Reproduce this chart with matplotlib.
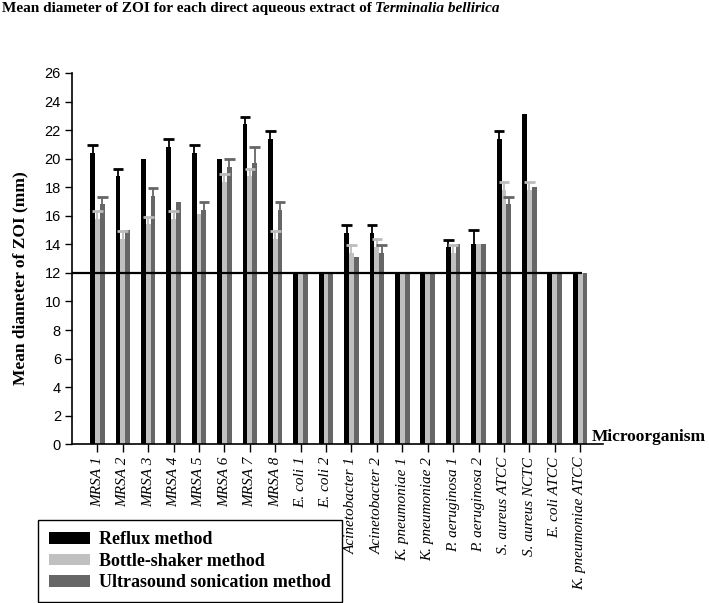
import numpy as np
import matplotlib
matplotlib.use("Agg")
from matplotlib import pyplot as plt

categories = ['MRSA 1', 'MRSA 2', 'MRSA 3', 'MRSA 4', 'MRSA 5', 'MRSA 6', 'MRSA 7', 'MRSA 8',
              'E. coli 1', 'E. coli 2', 'Acinetobacter 1', 'Acinetobacter 2',
              'K. pneumoniae 1', 'K. pneumoniae 2', 'P. aeruginosa 1', 'P. aeruginosa 2',
              'S. aureus ATCC', 'S. aureus NCTC', 'E. coli ATCC', 'K. pneumoniae ATCC']

reflux = [20.4, 18.8, 20.0, 20.8, 20.4, 20.0, 22.4, 21.4, 12, 12, 14.8, 14.8,
          12, 12, 13.8, 14.0, 21.4, 23.1, 12, 12]
reflux_err = [0.55, 0.5, 0, 0.55, 0.55, 0, 0.55, 0.55, 0, 0, 0.55, 0.55,
              0, 0, 0.5, 1.0, 0.55, 0, 0, 0]
shaker = [15.8, 14.4, 15.4, 15.8, 16.1, 18.4, 18.8, 14.4, 12, 12, 13.4, 13.8,
          12, 12, 13.4, 14.0, 17.8, 17.8, 12, 12]
shaker_err = [0.55, 0.55, 0.55, 0.55, 0, 0.55, 0.5, 0.55, 0, 0, 0.55, 0.55,
              0, 0, 0.55, 0, 0.55, 0.55, 0, 0]
sonic = [16.8, 15.0, 17.4, 17.0, 16.4, 19.4, 19.7, 16.4, 12, 12, 13.1, 13.4,
         12, 12, 14.0, 14.0, 16.8, 18.0, 12, 12]
sonic_err = [0.55, 0, 0.55, 0, 0.6, 0.55, 1.1, 0.6, 0, 0, 0, 0.55,
             0, 0, 0, 0, 0.55, 0, 0, 0]

series_names = ['Reflux method', 'Bottle-shaker method', 'Ultrasound sonication method']
threshold = 12

SERIF = 'Liberation Serif'
SANS = 'Liberation Sans'

fig = plt.figure(figsize=(7.09, 6.03), dpi=100)
ax = fig.add_axes([72/709, 1-444.3/603, (603-72)/709, (444.3-73)/603])

x = np.arange(len(categories))
w = 0.19
colors = ['#000000', '#c0c0c0', '#666666']
err_colors = ['#000000', '#bcbcbc', '#666666']
data = [(reflux, reflux_err), (shaker, shaker_err), (sonic, sonic_err)]

handles = []
for k, (vals, errs) in enumerate(data):
    xs = x + (k-1)*w
    vals = np.array(vals, dtype=float)
    errs = np.array(errs, dtype=float)
    b = ax.bar(xs, vals, width=w, color=colors[k], edgecolor='none', zorder=2)
    handles.append(b)
    m = errs > 0
    ax.vlines(xs[m], vals[m], vals[m]+errs[m], color=err_colors[k], lw=1.3, zorder=3)
    ax.hlines(vals[m]+errs[m], xs[m]-0.21, xs[m]+0.21, color=err_colors[k], lw=2, zorder=3)

# reference line at 12 mm
ax.hlines(threshold, -1, len(categories)-0.93, color='black', lw=1.6, zorder=4)

ax.set_xlim(-1, 19.9)
ax.set_ylim(0, 26)
ax.set_yticks(np.arange(0, 27, 2))
ax.set_xticks(x)
ax.set_xticklabels(categories, rotation=90, fontfamily=SERIF, fontstyle='italic', fontsize=11)
for lab in ax.get_yticklabels():
    lab.set_fontfamily(SANS)
    lab.set_fontsize(10.5)
ax.tick_params(axis='y', length=5, width=1, pad=3)
ax.tick_params(axis='x', length=6, width=1, pad=3)
for s in ['top', 'right']:
    ax.spines[s].set_visible(False)
for s in ['left', 'bottom']:
    ax.spines[s].set_linewidth(1.2)

fig.text(20/709, 1-278/603, 'Mean diameter of ZOI (mm)', rotation=90, ha='center', va='center',
         fontfamily=SERIF, fontweight='bold', fontsize=12.5)
fig.text(592/709, 1-441/603, 'Microorganism', ha='left', va='baseline',
         fontfamily=SERIF, fontweight='bold', fontsize=12.5)

# title: plain bold part + bold italic species name
t1 = fig.text(2/709, 1-2/603, 'Mean diameter of ZOI for each direct aqueous extract of',
              ha='left', va='top', fontfamily=SERIF, fontweight='bold', fontsize=11)
renderer = fig.canvas.get_renderer()
bb = t1.get_window_extent(renderer)
fig.text((bb.x1 + 3.5)/fig.bbox.width, 1-2/603, 'Terminalia bellirica', ha='left', va='top',
         fontfamily=SERIF, fontweight='bold', fontstyle='italic', fontsize=11)

leg = fig.legend(handles, series_names, loc='lower left', bbox_to_anchor=(38/709, 1/603),
                 prop={'family': SERIF, 'weight': 'bold', 'size': 13},
                 frameon=True, fancybox=False, edgecolor='black', framealpha=1,
                 handlelength=2.3, handleheight=0.6, handletextpad=0.5,
                 labelspacing=0.25, borderpad=0.6, borderaxespad=0)
leg.get_frame().set_linewidth(1.0)

fig.savefig('out.png', dpi=100)
